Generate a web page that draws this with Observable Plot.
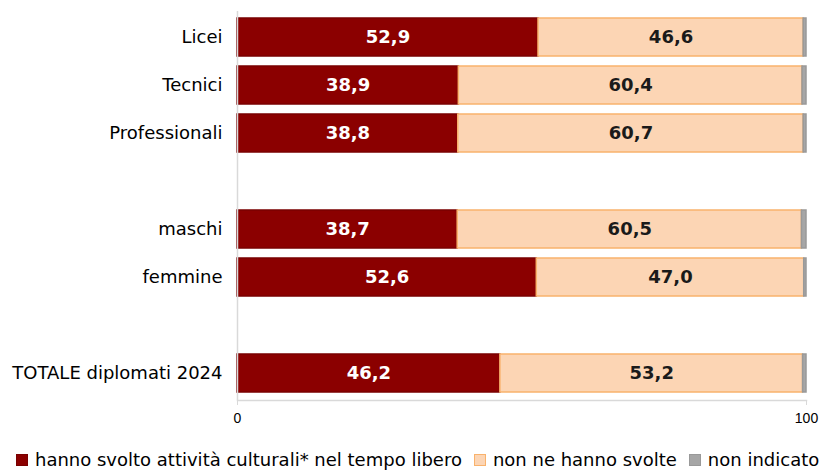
<!DOCTYPE html>
<html>
<head>
<meta charset="utf-8">
<script src="https://cdn.jsdelivr.net/npm/d3@7"></script>
<script src="https://cdn.jsdelivr.net/npm/@observablehq/plot@0.6"></script>
<style>
  body { margin: 0; background: #fff; font-family: "DejaVu Sans", sans-serif; }
  #chart svg { display: block; }
  #legend { display: flex; gap: 12px; margin-left: 16px; margin-top: 20px; font-size: 18px; line-height: 20px; color: #000; white-space: nowrap; }
  .item { display: flex; align-items: center; gap: 7px; }
  .sw { width: 10px; height: 10px; border: 1px solid; display: inline-block; }
</style>
</head>
<body>
<div id="chart"></div>
<div id="legend"></div>
<script>
const categories = ["Licei", "Tecnici", "Professionali", "", "maschi", "femmine", " ", "TOTALE diplomati 2024"];
const series = ["hanno svolto attività culturali* nel tempo libero", "non ne hanno svolte", "non indicato"];
const svolto = [52.9, 38.9, 38.8, null, 38.7, 52.6, null, 46.2];
const nonSvolte = [46.6, 60.4, 60.7, null, 60.5, 47.0, null, 53.2];
const nonIndicato = [0.5, 0.7, 0.5, null, 0.8, 0.4, null, 0.6];
const xTicks = [0, 100];
const fills = ["#8b0000", "#fcd5b4", "#a6a6a6"];
const strokes = ["#7a0000", "#f9b26c", "#999999"];
const textColors = ["#ffffff", "#1a1a1a", "none"];

const rows = [];
categories.forEach((c, i) => {
  [svolto, nonSvolte, nonIndicato].forEach((arr, s) => {
    if (arr[i] != null) rows.push({cat: c, series: series[s], si: s, value: arr[i]});
  });
});
const fmt = d => d.toFixed(1).replace(".", ",");

const plot = Plot.plot({
  width: 823,
  height: 430,
  marginLeft: 237,
  marginRight: 17,
  marginTop: 11,
  marginBottom: 30,
  style: {fontFamily: "DejaVu Sans, sans-serif", fontSize: "18px", color: "#000"},
  x: {domain: [0, 100], axis: null},
  y: {domain: categories, paddingInner: 0.2, paddingOuter: 0.145, axis: null},
  color: {domain: series, range: fills},
  marks: [
    Plot.barX(rows, Plot.stackX({x: "value", y: "cat", fill: "series", stroke: d => strokes[d.si], strokeWidth: 1.5, order: series, inset: 0})),
    Plot.text(rows.filter(d => d.si < 2), Plot.stackX({x: "value", y: "cat", z: "series", order: series, text: d => fmt(d.value), fill: d => textColors[d.si], fontWeight: "bold", fontSize: 18})),
    Plot.ruleX([0], {stroke: "#d9d9d9", strokeWidth: 1.5}),
    Plot.frame({anchor: "bottom", stroke: "#d9d9d9", strokeWidth: 1.5}),
    Plot.axisX({ticks: xTicks, tickSize: 5, stroke: "#d9d9d9", fontSize: 14, fontFamily: "Liberation Sans, Arial, sans-serif", tickPadding: 8, label: null}),
    Plot.axisY({tickSize: 0, tickPadding: 15, fontSize: 18, label: null, tickFormat: d => d.trim()})
  ]
});
document.getElementById("chart").appendChild(plot);

const legend = document.getElementById("legend");
series.forEach((s, i) => {
  const it = document.createElement("span");
  it.className = "item";
  const sw = document.createElement("span");
  sw.className = "sw";
  sw.style.background = fills[i];
  sw.style.borderColor = strokes[i];
  it.appendChild(sw);
  it.appendChild(document.createTextNode(s));
  legend.appendChild(it);
});
</script>
</body>
</html>
